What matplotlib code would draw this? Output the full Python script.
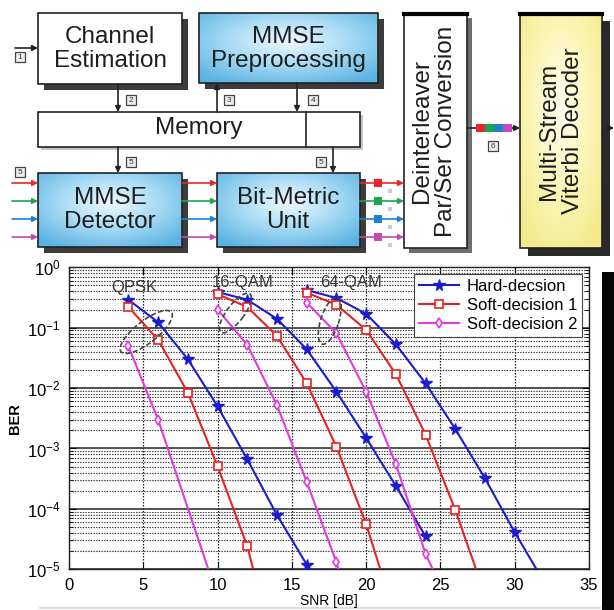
import numpy as np
import matplotlib
matplotlib.use("Agg")
import matplotlib.pyplot as plt
from matplotlib.patches import Rectangle, Ellipse
from matplotlib.colors import LinearSegmentedColormap
from matplotlib.transforms import ScaledTranslation
from matplotlib.ticker import LogLocator, NullFormatter, FixedLocator

plt.rcParams['font.family'] = ['Liberation Sans', 'DejaVu Sans']
plt.rcParams['mathtext.default'] = 'regular'

# BER curves, SNR in dB
snr_qpsk_hard = [4, 6, 8, 10, 12, 14, 16]
ber_qpsk_hard = [0.29, 0.123, 0.030, 5.0e-3, 6.6e-4, 7.9e-5, 1.2e-5]
snr_qpsk_soft1 = [4, 6, 8, 10, 12, 14]
ber_qpsk_soft1 = [0.22, 0.063, 8.4e-3, 5.1e-4, 2.4e-5, 3.0e-7]
snr_qpsk_soft2 = [4, 6, 10]
ber_qpsk_soft2 = [0.049, 3.0e-3, 3.5e-6]

snr_16_hard = [10, 12, 14, 16, 18, 20, 22, 24]
ber_16_hard = [0.39, 0.29, 0.14, 0.044, 8.7e-3, 1.5e-3, 2.4e-4, 3.5e-5]
snr_16_soft1 = [10, 12, 14, 16, 18, 20, 22]
ber_16_soft1 = [0.36, 0.22, 0.073, 0.012, 1.07e-3, 5.6e-5, 1.5e-6]
snr_16_soft2 = [10, 12, 14, 16, 18, 20]
ber_16_soft2 = [0.20, 0.052, 5.2e-3, 2.8e-4, 1.3e-5, 3.0e-7]

snr_64_hard = [16, 18, 20, 22, 24, 26, 28, 30, 32]
ber_64_hard = [0.42, 0.31, 0.17, 0.053, 0.012, 2.1e-3, 3.2e-4, 4.1e-5, 6.0e-6]
snr_64_soft1 = [16, 18, 20, 22, 24, 26, 28]
ber_64_soft1 = [0.38, 0.24, 0.092, 0.017, 1.7e-3, 9.6e-5, 3.8e-6]
snr_64_soft2 = [16, 18, 20, 22, 24, 26]
ber_64_soft2 = [0.26, 0.081, 8.7e-3, 5.5e-4, 1.8e-5, 1.6e-6]

legend_labels = ["Hard-decsion", "Soft-decision 1", "Soft-decision 2"]
mod_labels = ["QPSK", "16-QAM", "64-QAM"]
mod_label_pos = [(4.4, 0.47), (11.7, 0.55), (19.0, 0.57)]

c_hard = '#1c1ccf'
c_soft1 = '#e82222'
c_soft2 = '#e03ae0'

fig = plt.figure(figsize=(6.14, 6.10), dpi=100)

# ---------------- block diagram (pixel coordinates, y down) ----------------
ax0 = fig.add_axes([0, 0, 1, 1])
ax0.set_xlim(0, 614)
ax0.set_ylim(610, 0)
ax0.axis('off')

blue_cm = LinearSegmentedColormap.from_list('bl', ['#eef9ff', '#a6daf4', '#5ab3e2'])
yel_cm = LinearSegmentedColormap.from_list('yl', ['#fffef0', '#fbf6b8', '#f3ea8a'])


def grad_box(x0, y0, x1, y1, cmap):
    yy, xx = np.mgrid[-1:1:80j, -1:1:120j]
    r = np.sqrt(xx ** 2 + (yy + 0.2) ** 2) / 1.4
    ax0.imshow(r, extent=(x0, x1, y1, y0), cmap=cmap, vmin=0, vmax=1,
               aspect='auto', zorder=2, interpolation='bilinear')


def box(x0, y0, x1, y1, fill=None, cmap=None, shadow='#1a1a1a', sh=6):
    if shadow:
        ax0.add_patch(Rectangle((x0 + sh, y0 + sh), x1 - x0, y1 - y0,
                                facecolor=shadow, edgecolor='none', alpha=0.85, zorder=1))
    if cmap is not None:
        grad_box(x0, y0, x1, y1, cmap)
        fill = 'none'
    ax0.add_patch(Rectangle((x0, y0), x1 - x0, y1 - y0, facecolor=fill,
                            edgecolor='#222222', lw=1.2, zorder=3))


def arrow(p0, p1, color='#222222'):
    ax0.annotate('', xy=p1, xytext=p0, zorder=4,
                 arrowprops=dict(arrowstyle='-|>', color=color, lw=1.2,
                                 mutation_scale=8, shrinkA=0, shrinkB=0))


def tag(x, y, s):
    ax0.add_patch(Rectangle((x - 5, y - 5), 10, 10, facecolor='#eeeeee',
                            edgecolor='#444444', lw=0.9, zorder=5))
    ax0.text(x, y + 0.5, s, ha='center', va='center', fontsize=6, color='#333333', zorder=6)


box(38, 13, 182, 84, fill='white')
box(199, 13, 378, 83, cmap=blue_cm)
box(38, 112, 360, 147, fill='white', shadow='#bbbbbb', sh=3)
ax0.plot([306, 306], [112, 147], color='#222222', lw=1.2, zorder=4)
box(38, 173, 182, 247, cmap=blue_cm)
box(217, 173, 360, 247, cmap=blue_cm)
box(404, 13, 467, 248, fill='white', shadow='#555555', sh=5)
box(520, 13, 602, 248, cmap=yel_cm, shadow='#050505', sh=8)
ax0.plot([404, 467], [13.5, 13.5], color='black', lw=3, zorder=4)
ax0.plot([520, 602], [13.5, 13.5], color='black', lw=3, zorder=4)

txt = dict(ha='center', va='center', fontsize=17.5, color='#1e1e1e', zorder=6, linespacing=1.15)
ax0.text(110, 49, "Channel\nEstimation", **txt)
ax0.text(288, 49, "MMSE\nPreprocessing", **txt)
ax0.text(199, 128, "Memory", **txt)
ax0.text(110, 210, "MMSE\nDetector", **txt)
ax0.text(288, 210, "Bit-Metric\nUnit", **txt)
ax0.text(434, 131, "Deinterleaver\nPar/Ser Conversion", rotation=90, **txt)
ax0.text(561, 131, "Multi-Stream\nViterbi Decoder", rotation=90, **txt)

arrow((15, 48), (38, 48)); tag(20, 57, '1')
arrow((118, 84), (118, 112)); tag(131, 100, '2')
arrow((217, 112), (217, 83)); tag(229, 100, '3')
arrow((297, 83), (297, 112)); tag(313, 100, '4')
arrow((118, 147), (118, 173)); tag(131, 162, '5')
arrow((333, 147), (333, 173)); tag(321, 162, '5')
tag(20, 172, '5')

stream_cols = ['#e8262a', '#1fa54a', '#1f80d2', '#c24ab2']
stream_y = [183, 201, 219, 237]
for c, y in zip(stream_cols, stream_y):
    arrow((12, y), (38, y), color=c)
    arrow((182, y), (217, y), color=c)
    arrow((360, y), (404, y), color=c)
    ax0.add_patch(Rectangle((374, y - 4), 8, 8, facecolor=c, edgecolor='none', zorder=5))
    ax0.add_patch(Rectangle((388, y + 6), 4, 4, facecolor='#cccccc', edgecolor='none', zorder=5))

arrow((467, 128), (520, 128))
for i, c in enumerate(stream_cols):
    ax0.add_patch(Rectangle((476 + i * 9, 124), 9, 8, facecolor=c, edgecolor='none', zorder=5))
tag(493, 146, '6')
arrow((609, 128), (614, 128))

# dark panel edge beside the chart
ax0.add_patch(Rectangle((602, 272), 12, 338, facecolor='#050505', edgecolor='none', zorder=1))
ax0.plot([40, 600], [608, 608], color='#dddddd', lw=1.5, zorder=1)

# ---------------- BER chart ----------------
ax = fig.add_axes([69 / 614, 1 - 569.3 / 610, 520 / 614, 302 / 610])

hard_style = dict(color=c_hard, lw=1.5, marker='*', ms=8.5, mfc=c_hard, mec=c_hard, mew=1.0)
soft1_style = dict(color=c_soft1, lw=1.5, marker='s', ms=6, mfc='white', mec=c_soft1, mew=1.2)
soft2_style = dict(color=c_soft2, lw=1.5, marker='d', ms=5, mfc='white', mec=c_soft2, mew=1.2)

for xs, ys in [(snr_qpsk_hard, ber_qpsk_hard), (snr_16_hard, ber_16_hard), (snr_64_hard, ber_64_hard)]:
    ax.plot(xs, ys, zorder=5, **hard_style)
for xs, ys in [(snr_qpsk_soft1, ber_qpsk_soft1), (snr_16_soft1, ber_16_soft1), (snr_64_soft1, ber_64_soft1)]:
    ax.plot(xs, ys, zorder=5, **soft1_style)
for xs, ys in [(snr_qpsk_soft2, ber_qpsk_soft2), (snr_16_soft2, ber_16_soft2), (snr_64_soft2, ber_64_soft2)]:
    ax.plot(xs, ys, zorder=5, **soft2_style)

ax.set_yscale('log')
ax.set_xlim(0, 35)
ax.set_ylim(1e-5, 1)
ax.xaxis.set_major_locator(FixedLocator([0, 5, 10, 15, 20, 25, 30, 35]))
ax.yaxis.set_major_locator(LogLocator(base=10, numticks=10))
ax.yaxis.set_minor_locator(LogLocator(base=10, subs=np.arange(2, 10), numticks=10))
ax.yaxis.set_minor_formatter(NullFormatter())
ax.tick_params(which='both', direction='in', top=True, right=True, labelsize=12, pad=6)
ax.tick_params(which='major', length=5)
ax.tick_params(which='minor', length=3)

dots = (0, (1.2, 1.2))
ax.grid(True, axis='x', which='major', color='#222222', lw=0.9, ls=dots)
ax.grid(True, axis='y', which='major', color='#333333', lw=1.2, ls='-')
ax.grid(True, axis='y', which='minor', color='#333333', lw=0.8, ls=dots)
for s in ax.spines.values():
    s.set_linewidth(1.0)
    s.set_color('#222222')

ax.set_xlabel("SNR [dB]", fontsize=10, labelpad=1)
ax.set_ylabel("BER", fontsize=10.5, fontweight='bold', labelpad=4)

for s, (x, y) in zip(mod_labels, mod_label_pos):
    ax.text(x, y, s, ha='center', va='center', fontsize=12, color='#3a3a3a', zorder=6)

# dashed ellipses grouping the curves of each modulation
ell = [(5.2, 0.085, 0.64, 0.22, 38), (11.2, 0.175, 0.48, 0.17, 53), (17.55, 0.13, 0.49, 0.18, 72)]
for cx, cy, w, h, a in ell:
    tr = fig.dpi_scale_trans + ScaledTranslation(cx, cy, ax.transData)
    ax.add_patch(Ellipse((0, 0), w, h, angle=a, transform=tr, fill=False,
                         edgecolor='#444444', lw=1.2, ls=(0, (3, 1.5)), zorder=6))

h1, = ax.plot([], [], **hard_style)
h2, = ax.plot([], [], **soft1_style)
h3, = ax.plot([], [], **soft2_style)
leg = ax.legend([h1, h2, h3], legend_labels, loc='upper right', fontsize=12,
                fancybox=False, framealpha=1, edgecolor='#444444', handlelength=2.4,
                borderaxespad=0.4, labelspacing=0.25, handletextpad=0.5, borderpad=0.3)
leg.get_frame().set_linewidth(0.8)
leg.set_zorder(10)

fig.savefig("out.png", dpi=100, facecolor='white')
